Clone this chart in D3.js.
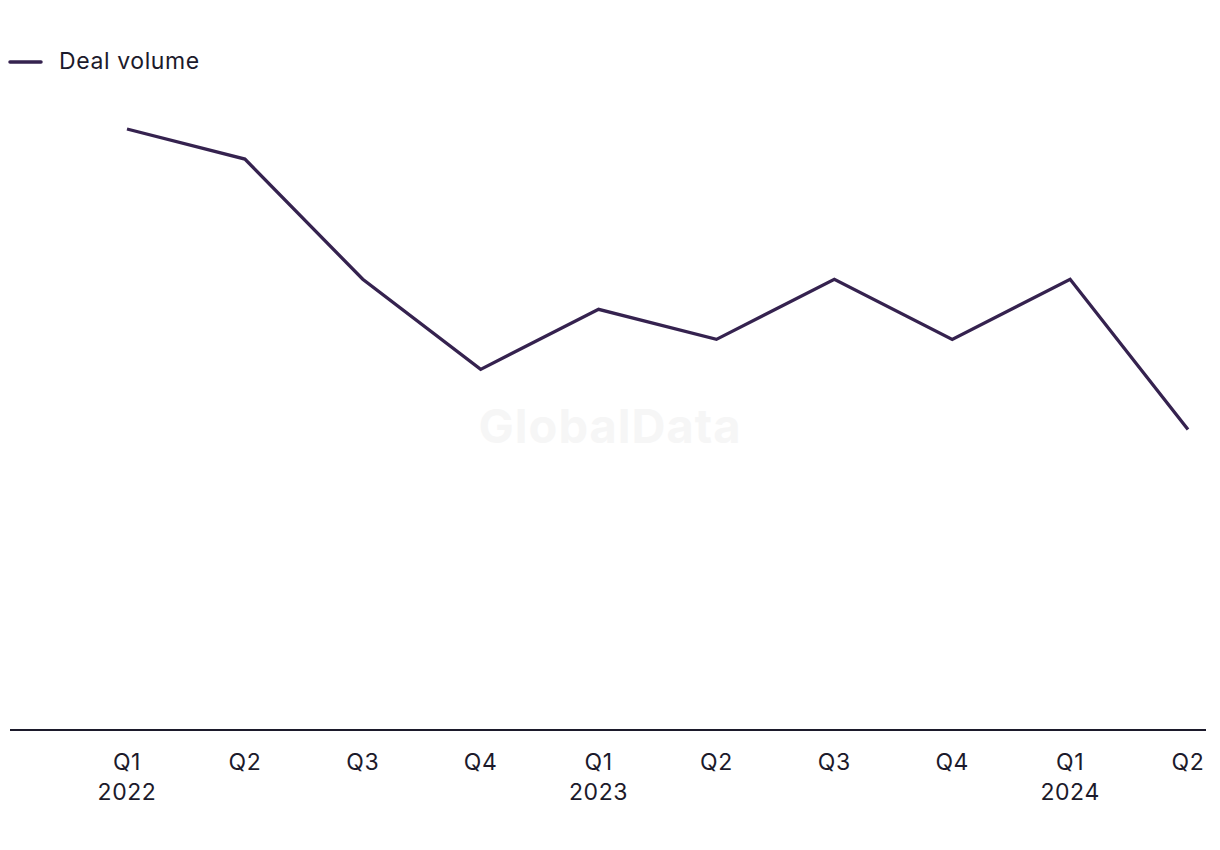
<!DOCTYPE html>
<html><head><meta charset="utf-8">
<script src="https://cdn.jsdelivr.net/npm/d3@7"></script>
<style>body{margin:0;background:#fff;}svg{display:block;font-family:Inter,"Noto Sans",sans-serif;}</style>
</head><body><svg id="c" width="1220" height="850"></svg>
<script>
const quarters = ["Q1","Q2","Q3","Q4","Q1","Q2","Q3","Q4","Q1","Q2"];
const years = ["2022","","","","2023","","","","2024",""];
const dealVolume = [20,19,15,12,14,13,15,13,15,10];
const seriesName = "Deal volume";

const svg = d3.select("#c");
const color = "#35224f";
const textColor = "#1c1a2b";
const idx = d3.range(quarters.length);
const x = d3.scaleLinear().domain([0, quarters.length-1]).range([127, 1188]);
const y = d3.scaleLinear().domain([0, 20]).range([730, 129]);

svg.append("text").attr("x",610).attr("y",443).attr("text-anchor","middle")
  .attr("font-size",47).attr("font-weight",700).attr("fill","#f6f6f6")
  .attr("letter-spacing",1).text("GlobalData");

svg.append("line").attr("x1",10).attr("x2",1206).attr("y1",730).attr("y2",730)
  .attr("stroke",textColor).attr("stroke-width",2);

const line = d3.line().x(i=>x(i)).y(i=>y(dealVolume[i]));
svg.append("path").datum(idx).attr("d",line).attr("fill","none")
  .attr("stroke",color).attr("stroke-width",3.3).attr("stroke-linejoin","miter");

const g = svg.append("g").attr("font-size",23).attr("letter-spacing",0.6).attr("fill",textColor);
g.selectAll("text.q").data(idx).join("text").attr("class","q")
  .attr("x",i=>x(i)).attr("y",770).attr("text-anchor","middle").text(i=>quarters[i]);
g.selectAll("text.yr").data(idx.filter(i=>years[i])).join("text").attr("class","yr")
  .attr("x",i=>x(i)).attr("y",800).attr("text-anchor","middle").text(i=>years[i]);

svg.append("line").attr("x1",10).attr("x2",41).attr("y1",62).attr("y2",62)
  .attr("stroke",color).attr("stroke-width",3.5).attr("stroke-linecap","round");
svg.append("text").attr("x",59).attr("y",69).attr("font-size",23).attr("letter-spacing",0.6)
  .attr("fill",textColor).text(seriesName);
</script></body></html>
